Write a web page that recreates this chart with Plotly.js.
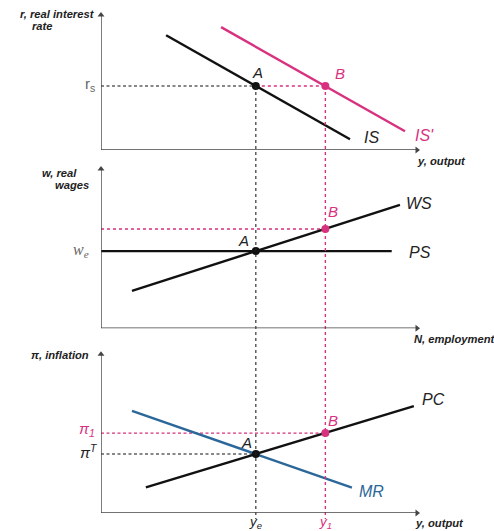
<!DOCTYPE html>
<html><head><meta charset="utf-8">
<script src="https://cdn.plot.ly/plotly-3.0.1.min.js"></script>
<style>html,body{margin:0;padding:0;background:#fff}#chart{width:494px;height:531px}</style>
</head><body><div id="chart"></div>
<script>
// equilibrium values (output units)
const yE = 4.9, y1 = 7.1;
const rS = 4.74;
const wE = 4.84, wB = 6.23;
const piT = 3.71, pi1 = 5.03;
// curve endpoints
const isX = [2.06, 7.88], isY = [8.50, 0.79];
const isPX = [3.8, 9.62], isPY = [9.10, 1.39];
const wsX = [0.98, 9.46], wsY = [2.35, 7.74];
const psX = [0, 9.2], psY = [wE, wE];
const pcX = [1.42, 9.9], pcY = [1.61, 6.73];
const mrX = [0.98, 7.94], mrY = [6.43, 1.60];
const axisMax = 10;

const PINK = '#d8317f', BLUE = '#2b6799', BLK = '#111111', AXC = '#444444';
const domTop = [0.729, 1], domMid = [0.371, 0.691], domBot = [0, 0.319];
const toPaper = (d, v) => d[0] + v / 10 * (d[1] - d[0]);

function ln(x, y, ya, color, width, dash) {
  return {x: x, y: y, xaxis: 'x', yaxis: ya, mode: 'lines', hoverinfo: 'skip',
    line: {color: color, width: width, dash: dash || 'solid'}};
}
function pt(x, y, ya, color) {
  return {x: [x], y: [y], xaxis: 'x', yaxis: ya, mode: 'markers', hoverinfo: 'skip', cliponaxis: false,
    marker: {color: color, size: 8}};
}
function heads(ya) {
  return {x: [0, axisMax], y: [axisMax, 0], xaxis: 'x', yaxis: ya, mode: 'markers', hoverinfo: 'skip',
    cliponaxis: false, marker: {color: AXC, size: 6, symbol: ['triangle-up', 'triangle-right']}};
}
const traces = [
  // top panel
  ln([0, yE], [rS, rS], 'y', BLK, 1.1, '3px,2.5px'),
  ln([yE, y1], [rS, rS], 'y', PINK, 1.4, 'dot'),
  ln(isX, isY, 'y', BLK, 2.4),
  ln(isPX, isPY, 'y', PINK, 2.4),
  pt(yE, rS, 'y', BLK), pt(y1, rS, 'y', PINK),
  // middle panel
  ln([0, y1], [wB, wB], 'y2', PINK, 1.4, 'dot'),
  ln(psX, psY, 'y2', BLK, 2.4),
  ln(wsX, wsY, 'y2', BLK, 2.4),
  pt(yE, wE, 'y2', BLK), pt(y1, wB, 'y2', PINK),
  // bottom panel
  ln([0, y1], [pi1, pi1], 'y3', PINK, 1.1, '3px,2.5px'),
  ln([0, yE], [piT, piT], 'y3', BLK, 1.1, '3px,2.5px'),
  ln(pcX, pcY, 'y3', BLK, 2.4),
  ln(mrX, mrY, 'y3', BLUE, 2.4),
  pt(yE, piT, 'y3', BLK), pt(y1, pi1, 'y3', PINK),
  heads('y'), heads('y2'), heads('y3')
];

const FONT = 'Liberation Sans, Arial, sans-serif';
function lab(text, x, y, yref, xanchor, xs, ys, size, color, family) {
  return {text: text, x: x, y: y, xref: 'x', yref: yref, showarrow: false,
    xanchor: xanchor, yanchor: 'middle', xshift: xs, yshift: ys,
    font: {family: family || FONT, size: size, color: color}};
}
const SERIF = 'Liberation Serif, Times New Roman, serif';
const TS = 11.2;
const annotations = [
  // axis titles
  lab('<b><i>r, real interest</i></b>', 0, 10, 'y', 'right', -4, 1, TS, '#222'),
  lab('<b><i>rate</i></b>', 0, 10, 'y', 'right', -46, -11, TS, '#222'),
  lab('<b><i>y, output</i></b>', 10, 0, 'y', 'left', -2, -11, TS, '#222'),
  lab('<b><i>w, real</i></b>', 0, 10, 'y2', 'right', -22, -4, TS, '#222'),
  lab('<b><i>wages</i></b>', 0, 10, 'y2', 'right', -10, -16, TS, '#222'),
  lab('<b><i>N, employment</i></b>', 10, 0, 'y2', 'left', -5, -11, TS, '#222'),
  lab('<b><i>π, inflation</i></b>', 0, 10, 'y3', 'right', -10, -1, TS, '#222'),
  lab('<b><i>y, output</i></b>', 10, 0, 'y3', 'left', -4, -10, TS, '#222'),
  // value labels
  lab('r<sub>s</sub>', 0, rS, 'y', 'right', -4, 1, 15, '#666'),
  lab('<i>w<sub>e</sub></i>', 0, wE, 'y2', 'right', -10, 1, 16, '#666', SERIF),
  lab('<i>π<sub>1</sub></i>', 0, pi1, 'y3', 'right', -4, 4, 15, PINK),
  lab('<i>π<sup>T</sup></i>', 0, piT, 'y3', 'right', -1, 3, 15, '#222'),
  lab('<i>y<sub>e</sub></i>', yE, 0, 'y3', 'center', 0, -10, 13.5, '#222'),
  lab('<i>y<sub>1</sub></i>', y1, 0, 'y3', 'center', 0, -10, 13.5, PINK),
  // curve labels
  lab('<i>IS</i>', isX[1], isY[1], 'y', 'left', 12, 2, 16, '#222'),
  lab("<i>IS'</i>", isPX[1], isPY[1], 'y', 'left', 8, -4, 16, PINK),
  lab('<i>WS</i>', wsX[1], wsY[1], 'y2', 'left', 4, 1, 16, '#222'),
  lab('<i>PS</i>', psX[1], psY[1], 'y2', 'left', 15, -1, 16, '#222'),
  lab('<i>PC</i>', pcX[1], pcY[1], 'y3', 'left', 6, 7, 16, '#222'),
  lab('<i>MR</i>', mrX[1], mrY[1], 'y3', 'left', 5, -4, 16, BLUE),
  // points
  lab('<i>A</i>', yE, rS, 'y', 'center', 2, 13, 15, '#222'),
  lab('<i>B</i>', y1, rS, 'y', 'center', 15, 12, 15, PINK),
  lab('<i>A</i>', yE, wE, 'y2', 'center', -12, 11, 15, '#222'),
  lab('<i>B</i>', y1, wB, 'y2', 'center', 8, 17, 15, PINK),
  lab('<i>A</i>', yE, piT, 'y3', 'center', -9, 12, 15, '#222'),
  lab('<i>B</i>', y1, pi1, 'y3', 'center', 8, 13, 15, PINK)
];

const shapes = [
  {type: 'line', xref: 'x', yref: 'paper', x0: yE, x1: yE, y0: toPaper(domTop, rS), y1: -0.012,
   line: {color: '#222', width: 1.1, dash: 'dot'}},
  {type: 'line', xref: 'x', yref: 'paper', x0: y1, x1: y1, y0: toPaper(domTop, rS), y1: -0.012,
   line: {color: PINK, width: 1.4, dash: 'dot'}}
];
['y', 'y2', 'y3'].forEach(ya => {
  shapes.push({type: 'line', xref: 'x', yref: ya, x0: 0, x1: 0, y0: 0, y1: axisMax, line: {color: AXC, width: 1.4}});
  shapes.push({type: 'line', xref: 'x', yref: ya, x0: 0, x1: axisMax, y0: 0, y1: 0, line: {color: AXC, width: 1.4}});
});

const hid = {showgrid: false, zeroline: false, showticklabels: false, ticks: '', showline: false, fixedrange: true};
const layout = {
  width: 494, height: 531,
  margin: {l: 101, r: 77, t: 15, b: 18},
  paper_bgcolor: '#fff', plot_bgcolor: 'rgba(0,0,0,0)',
  showlegend: false,
  xaxis: Object.assign({range: [0, 10], anchor: 'y3'}, hid),
  yaxis: Object.assign({range: [0, 10], domain: domTop, anchor: 'x'}, hid),
  yaxis2: Object.assign({range: [0, 10], domain: domMid, anchor: 'x'}, hid),
  yaxis3: Object.assign({range: [0, 10], domain: domBot, anchor: 'x'}, hid),
  annotations: annotations,
  shapes: shapes
};
Plotly.newPlot('chart', traces, layout, {displayModeBar: false, staticPlot: true});
</script>
</body></html>
